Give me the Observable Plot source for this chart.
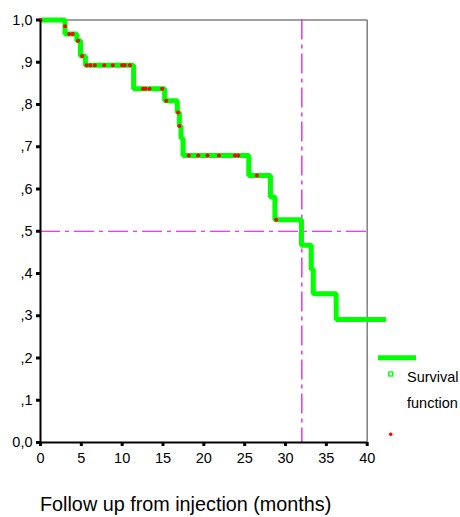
<!DOCTYPE html>
<html><head><meta charset="utf-8">
<script src="https://cdn.jsdelivr.net/npm/d3@7"></script>
<script src="https://cdn.jsdelivr.net/npm/@observablehq/plot@0.6"></script>
<style>
body{margin:0;background:#fff;}
#wrap{position:relative;width:460px;height:517px;font-family:"Liberation Sans",Arial,sans-serif;color:#000;}
#xtitle{position:absolute;left:40px;top:495px;font-size:19.8px;white-space:nowrap;line-height:1;}
#legend{position:absolute;left:0;top:0;}
</style></head><body><div id="wrap"></div>
<script>
// Kaplan-Meier step function (time in months, cumulative survival)
const stepTimes    = [0,    3.0,   4.45,  4.9,   5.5,   11.4,  15.2,  16.75, 17.0,  17.2,  17.45, 25.5,  28.15, 28.7,  31.95, 33.15, 33.4,  36.2,  42.3];
const stepSurvival = [1.0,  0.967, 0.951, 0.915, 0.893, 0.837, 0.809, 0.781, 0.749, 0.72,  0.679, 0.632, 0.581, 0.527, 0.467, 0.41,  0.352, 0.291, 0.291];
// censored observations
const censorTimes    = [0,   3.0,   3.5,   3.95,  4.6,   5.1,   5.65,  6.1,   6.65,  7.8,   8.85,  10.0,  10.3,  10.95, 12.55, 12.85, 13.35, 14.9,  15.4,  16.85, 17.0,  18.15, 19.3,  20.45, 21.85, 23.8,  24.2,  26.5,  28.85];
const censorSurvival = [1.0, 0.985, 0.967, 0.967, 0.951, 0.915, 0.893, 0.893, 0.893, 0.893, 0.893, 0.893, 0.893, 0.893, 0.837, 0.837, 0.837, 0.837, 0.809, 0.781, 0.749, 0.679, 0.679, 0.679, 0.679, 0.679, 0.679, 0.632, 0.527];
// median reference lines
const medianSurvival = 0.5;
const medianTime = 32;
// axes
const xTicks = [0, 5, 10, 15, 20, 25, 30, 35, 40];
const yTicks = [0, 0.1, 0.2, 0.3, 0.4, 0.5, 0.6, 0.7, 0.8, 0.9, 1.0];
const yTickLabels = ["0,0", ",1", ",2", ",3", ",4", ",5", ",6", ",7", ",8", ",9", "1,0"];
const xTitle = "Follow up from injection (months)";
const legendLines = ["Survival", "function"];

const steps = stepTimes.map((t, i) => ({t, s: stepSurvival[i]}));
const cens = censorTimes.map((t, i) => ({t, s: censorSurvival[i]}));
const yFmt = d => yTickLabels[yTicks.findIndex(v => Math.abs(v - d) < 1e-9)];

const refColor = "#e600e6";
const chart = Plot.plot({
  width: 460, height: 517,
  marginLeft: 40, marginRight: 93.3, marginTop: 19.5, marginBottom: 75,
  style: {fontFamily: "Liberation Sans, Arial, sans-serif", fontSize: "14.5px", color: "#000", background: "#fff", overflow: "visible"},
  x: {domain: [0, 40]},
  y: {domain: [0, 1]},
  marks: [
    Plot.ruleY([1], {x1: 0, x2: 40, stroke: "#808080", strokeWidth: 1.5}),
    Plot.ruleX([40], {y1: 0, y2: 1, stroke: "#808080", strokeWidth: 1.5}),
    Plot.ruleY([medianSurvival], {x1: 0, x2: 40, stroke: refColor, strokeWidth: 1.2, strokeDasharray: "20,5,4,5"}),
    Plot.ruleX([medianTime], {y1: 1, y2: 0, stroke: refColor, strokeWidth: 1.2, strokeDasharray: "20,5,4,5"}),
    Plot.line(steps, {x: "t", y: "s", curve: "step-after", stroke: "#00ff00", strokeWidth: 5, strokeLinejoin: "miter", strokeLinecap: "butt", clip: false}),
    Plot.dot(cens, {x: "t", y: "s", r: 2, fill: "#ff0000", stroke: null}),
    Plot.axisX({ticks: xTicks, tickSize: 4, strokeWidth: 3, tickPadding: 6, label: null, fontSize: 14.5}),
    Plot.axisY({ticks: yTicks, tickFormat: yFmt, tickSize: 4, strokeWidth: 3, tickPadding: 4, label: null, fontSize: 14.5}),
    Plot.ruleX([0], {y1: 0, y2: 1, stroke: "#000", strokeWidth: 2}),
    Plot.ruleY([0], {x1: 0, x2: 40, stroke: "#000", strokeWidth: 2})
  ]
});
const wrap = document.getElementById("wrap");
wrap.appendChild(chart);

const title = document.createElement("div");
title.id = "xtitle";
title.textContent = xTitle;
wrap.appendChild(title);

// legend overlay
const ns = "http://www.w3.org/2000/svg";
const leg = document.createElementNS(ns, "svg");
leg.setAttribute("id", "legend");
leg.setAttribute("width", 460);
leg.setAttribute("height", 517);
leg.innerHTML = `
  <line x1="378" x2="416" y1="357.7" y2="357.7" stroke="#00ff00" stroke-width="5"/>
  <rect x="388.7" y="372" width="4" height="4" fill="none" stroke="#00ff00" stroke-width="1.3"/>
  <text x="407" y="381.5" font-size="14.5" font-family="Liberation Sans, Arial, sans-serif">${legendLines[0]}</text>
  <text x="407" y="408" font-size="14.5" font-family="Liberation Sans, Arial, sans-serif">${legendLines[1]}</text>
  <circle cx="390.7" cy="434.3" r="1.8" fill="#ff0000"/>`;
wrap.appendChild(leg);
</script>
</body></html>
